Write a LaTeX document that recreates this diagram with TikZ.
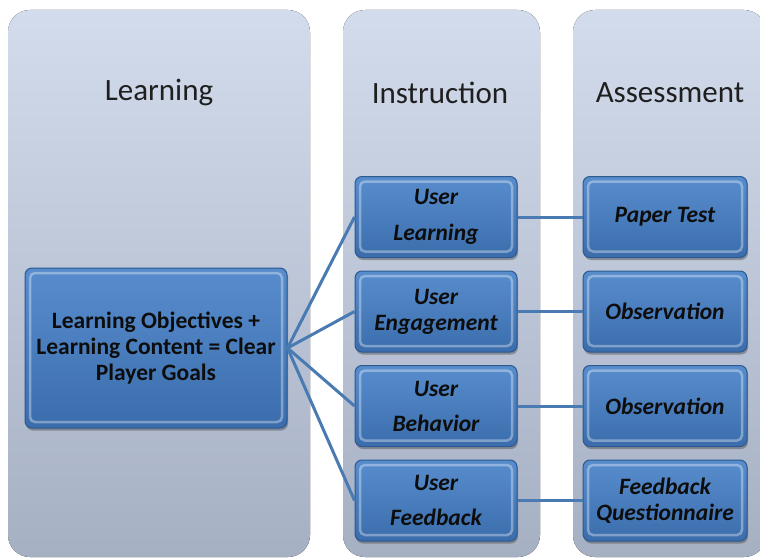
\documentclass[tikz,border=0pt]{standalone}
\usepackage{fontspec}
\setmainfont{Carlito}
\usetikzlibrary{shadows}
\definecolor{colTop}{HTML}{D2DCEC}
\definecolor{colBot}{HTML}{A6B0C3}
\definecolor{boxTop}{HTML}{588DCD}
\definecolor{boxBot}{HTML}{3B6DAC}
\definecolor{boxEdge}{HTML}{2C5990}
\definecolor{lnk}{HTML}{4A7AB2}
\tikzset{
  column/.style={rounded corners=22pt, top color=colTop, bottom color=colBot, draw=none},
  hdr/.style={font=\fontsize{31}{36}\selectfont, text=black!88},
  blk/.style={rectangle, rounded corners=7pt, top color=boxTop, bottom color=boxBot,
    draw=boxEdge, line width=1pt,
    drop shadow={shadow xshift=1pt, shadow yshift=-2.5pt, opacity=0.45, fill=black!70},
    align=center, text=black!95, inner sep=0pt,
    font=\bfseries\itshape\fontsize{23.5}{26}\selectfont,
    path picture={\draw[white,opacity=0.35,line width=2.5pt,rounded corners=5pt]
      ([shift={(5pt,-5pt)}]path picture bounding box.north west) rectangle
      ([shift={(-5pt,6pt)}]path picture bounding box.south east);}},
  ibox/.style={blk, minimum width=162pt, minimum height=81pt},
  abox/.style={blk, minimum width=164pt, minimum height=81pt},
  link/.style={draw=lnk, line width=3pt}
}
\begin{document}
\begin{tikzpicture}[x=1pt,y=-1pt]
\useasboundingbox[fill=white] (0,0) rectangle (760,559);
% columns
\fill[column] (8,10) rectangle (310,557);
\fill[column] (343,10) rectangle (540,557);
\fill[column] (573,10) rectangle (766,557);
% headers
\node[hdr] (hL) at (159,93) {Learning};
\node[hdr] (hI) at (440,93) {Instruction};
\node[hdr] (hA) at (670,93) {Assessment};
% learning box
\node[blk, minimum width=262pt, minimum height=160pt,
  font=\bfseries\fontsize{23.5}{26}\selectfont] (obj) at (156,348)
  {Learning Objectives +\\Learning Content = Clear\\Player Goals};
% instruction boxes
\node[ibox] (i1) at (436,217) {User\\[10pt]Learning};
\node[ibox] (i2) at (436,311.5) {User\\Engagement};
\node[ibox] (i3) at (436,406) {User\\[9pt]Behavior};
\node[ibox] (i4) at (436,500.5) {User\\[9pt]Feedback};
% assessment boxes
\node[abox] (a1) at (665,217) {Paper Test};
\node[abox] (a2) at (665,311.5) {Observation};
\node[abox] (a3) at (665,406) {Observation};
\node[abox] (a4) at (665,500.5) {Feedback\\Questionnaire};
% connectors
\draw[link] (obj.east) -- (i1.west);
\draw[link] (obj.east) -- (i2.west);
\draw[link] (obj.east) -- (i3.west);
\draw[link] (obj.east) -- (i4.west);
\draw[link] (i1.east) -- (a1.west);
\draw[link] (i2.east) -- (a2.west);
\draw[link] (i3.east) -- (a3.west);
\draw[link] (i4.east) -- (a4.west);
\end{tikzpicture}
\end{document}
